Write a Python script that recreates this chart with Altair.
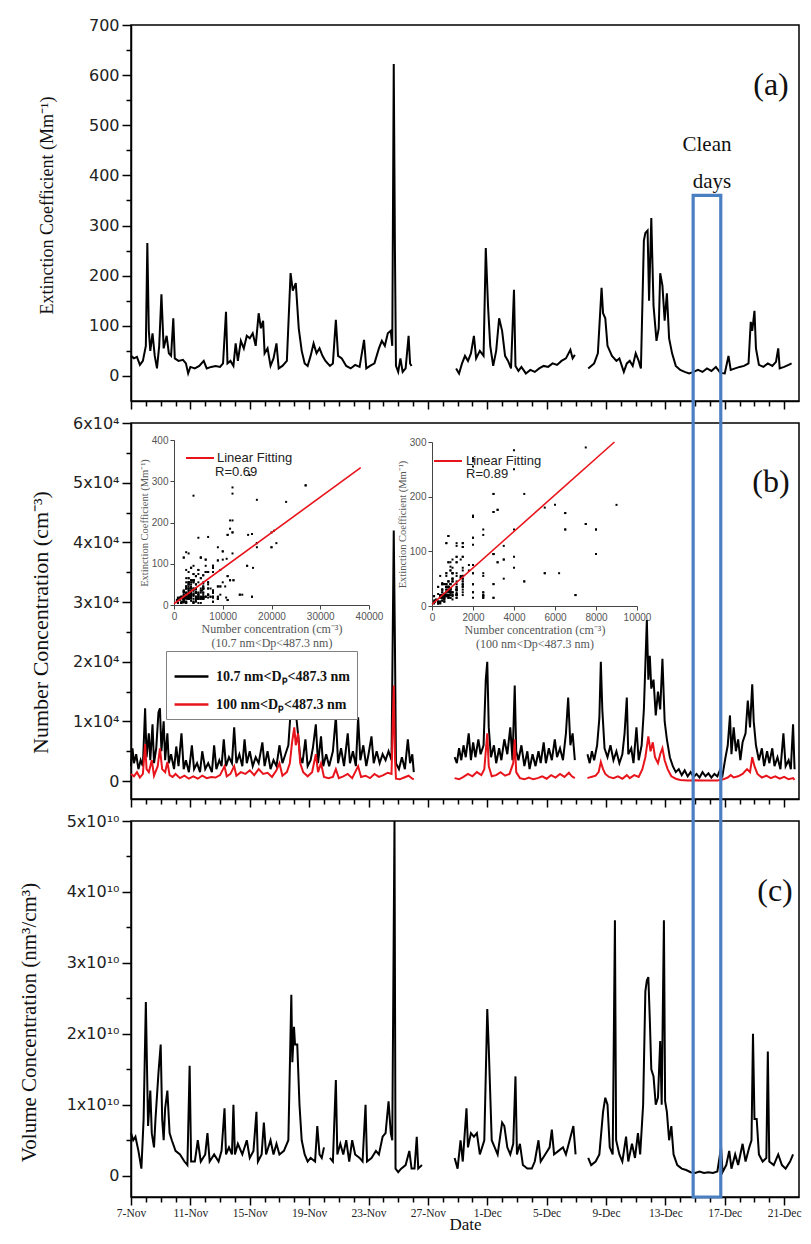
import altair as alt
import pandas as pd

START = pd.Timestamp("2013-11-07")
RED = "#e8141b"
BLUE = "#4a7fc1"
SERIF = "Liberation Serif"
SANS = "DejaVu Sans"
LBL1 = "10.7 nm<Dₚ<487.3 nm"
LBL2 = "100 nm<Dₚ<487.3 nm"

# ---------------- data (day offset from 7-Nov 00:00, value); None marks a gap ----------------
EXT = [
    (0.0, 40), (0.2, 35), (0.4, 38), (0.6, 22), (0.8, 30), (1.0, 60), (1.1, 265), (1.2, 90), (1.3, 50),
    (1.45, 85), (1.6, 40), (1.75, 15), (1.9, 60), (2.05, 163), (2.2, 55), (2.4, 80), (2.55, 45), (2.7, 40),
    (2.85, 115), (2.95, 35), (3.2, 30), (3.5, 32), (3.7, 25), (3.85, 5), (4.0, 18), (4.3, 15), (4.6, 20),
    (4.9, 30), (5.1, 15), (5.4, 18), (5.7, 20), (6.0, 18), (6.2, 25), (6.4, 128), (6.5, 25), (6.7, 30),
    (6.9, 20), (7.05, 65), (7.2, 30), (7.4, 70), (7.6, 55), (7.8, 80), (8.0, 75), (8.2, 85), (8.4, 60),
    (8.6, 125), (8.75, 95), (8.9, 110), (9.0, 45), (9.2, 55), (9.4, 20), (9.6, 35), (9.8, 65), (9.95, 15),
    (10.2, 20), (10.5, 30), (10.75, 205), (10.9, 170), (11.1, 185), (11.3, 95), (11.5, 50), (11.7, 25),
    (11.9, 20), (12.1, 40), (12.3, 65), (12.5, 45), (12.7, 55), (12.9, 40), (13.1, 30), (13.4, 20),
    (13.6, 25), (13.8, 112), (13.95, 40), (14.2, 35), (14.5, 20), (14.8, 15), (15.1, 22), (15.4, 18),
    (15.7, 72), (15.85, 15), (16.1, 20), (16.4, 25), (16.7, 55), (16.9, 70), (17.1, 60), (17.3, 85),
    (17.5, 90), (17.6, 60), (17.7, 622), (17.78, 250), (17.85, 20), (18.0, 8), (18.15, 35), (18.3, 8),
    (18.5, 15), (18.7, 80), (18.8, 25), (18.9, 20),
    (20.0, None),
    (21.9, 15), (22.1, 5), (22.3, 25), (22.5, 40), (22.7, 30), (22.9, 45), (23.1, 80), (23.25, 35),
    (23.5, 50), (23.75, 40), (23.9, 255), (24.05, 140), (24.2, 60), (24.4, 20), (24.6, 50), (24.8, 115),
    (25.0, 90), (25.2, 40), (25.4, 30), (25.6, 15), (25.8, 172), (25.9, 20), (26.1, 10), (26.3, 18),
    (26.6, 5), (26.9, 12), (27.2, 8), (27.5, 15), (27.8, 20), (28.1, 18), (28.4, 25), (28.7, 22),
    (29.0, 30), (29.3, 35), (29.6, 52), (29.75, 35), (29.9, 42),
    (30.3, None),
    (30.8, 15), (31.0, 20), (31.2, 25), (31.45, 45), (31.7, 176), (31.8, 125), (31.95, 115), (32.1, 60),
    (32.4, 40), (32.7, 30), (32.9, 35), (33.2, 8), (33.4, 25), (33.6, 30), (33.8, 20), (34.0, 45),
    (34.2, 30), (34.35, 15), (34.55, 270), (34.65, 285), (34.8, 290), (34.9, 150), (35.05, 315),
    (35.2, 140), (35.4, 70), (35.55, 95), (35.65, 205), (35.8, 180), (35.95, 110), (36.1, 165),
    (36.25, 75), (36.45, 45), (36.7, 20), (37.0, 12), (37.3, 8), (37.6, 5), (37.9, 8), (38.2, 12),
    (38.5, 8), (38.8, 15), (39.1, 10), (39.4, 18), (39.7, 6), (40.0, 5), (40.25, 40), (40.4, 12),
    (40.7, 15), (41.0, 18), (41.3, 20), (41.6, 25), (41.75, 108), (41.85, 90), (42.0, 130), (42.1, 55),
    (42.3, 22), (42.6, 18), (42.9, 25), (43.2, 20), (43.45, 28), (43.6, 55), (43.7, 15), (44.0, 18),
    (44.3, 22), (44.5, 25),
]

NUM = [
    (0.0, 2500), (0.1, 5500), (0.2, 3000), (0.35, 4500), (0.5, 2000), (0.65, 3500), (0.8, 2500),
    (0.95, 12200), (1.05, 4000), (1.2, 8000), (1.3, 3500), (1.45, 9500), (1.55, 3000), (1.7, 5500),
    (1.85, 11500), (1.95, 12200), (2.05, 5000), (2.2, 10000), (2.3, 3500), (2.45, 8000), (2.55, 3000),
    (2.7, 4500), (2.9, 2000), (3.05, 5800), (3.2, 2500), (3.4, 8000), (3.55, 2000), (3.7, 3500),
    (3.9, 1500), (4.1, 6000), (4.25, 2000), (4.45, 3000), (4.65, 1500), (4.8, 5000), (5.0, 2000),
    (5.2, 3000), (5.45, 1500), (5.6, 6000), (5.75, 2000), (5.95, 3500), (6.1, 2500), (6.25, 7000),
    (6.4, 2500), (6.6, 4000), (6.8, 3000), (6.95, 9000), (7.1, 3000), (7.3, 4500), (7.5, 2500),
    (7.65, 7000), (7.8, 3000), (8.0, 5000), (8.2, 2500), (8.4, 4000), (8.6, 3000), (8.85, 6500),
    (9.0, 2500), (9.2, 5000), (9.4, 2000), (9.6, 3500), (9.8, 2500), (10.0, 6000), (10.2, 3000),
    (10.4, 4500), (10.6, 6000), (10.75, 11500), (10.85, 15200), (10.95, 11000), (11.1, 11500),
    (11.25, 8000), (11.4, 4000), (11.55, 3000), (11.75, 7000), (11.9, 2500), (12.1, 3500),
    (12.25, 5500), (12.45, 9500), (12.6, 3000), (12.8, 7500), (12.95, 2500), (13.15, 4500),
    (13.35, 2500), (13.6, 5000), (13.8, 10800), (13.95, 3000), (14.15, 5500), (14.35, 2500),
    (14.6, 8000), (14.75, 3000), (14.95, 5000), (15.15, 2500), (15.3, 10700), (15.45, 3500),
    (15.65, 6000), (15.85, 2500), (16.0, 4500), (16.2, 7500), (16.35, 3000), (16.55, 5000),
    (16.75, 3000), (16.95, 4500), (17.15, 3500), (17.35, 5000), (17.55, 3500), (17.7, 42000),
    (17.78, 23000), (17.85, 3000), (18.05, 2000), (18.25, 4000), (18.45, 2000), (18.65, 7000),
    (18.8, 3000), (18.95, 4500), (19.05, 1500),
    (20.0, None),
    (21.8, 4000), (21.95, 3000), (22.1, 5500), (22.25, 3500), (22.4, 6000), (22.55, 4000),
    (22.75, 8000), (22.9, 3500), (23.05, 6500), (23.2, 4000), (23.4, 7000), (23.55, 4500),
    (23.75, 6000), (23.9, 17000), (24.0, 20000), (24.1, 9000), (24.25, 4000), (24.45, 6000),
    (24.6, 3000), (24.8, 5500), (24.95, 3500), (25.15, 7000), (25.35, 4500), (25.55, 9000),
    (25.7, 3500), (25.85, 16000), (25.95, 5000), (26.1, 3500), (26.3, 6000), (26.5, 2500),
    (26.7, 5000), (26.85, 2000), (27.05, 4500), (27.25, 2500), (27.45, 5000), (27.6, 3000),
    (27.8, 6500), (27.95, 3000), (28.15, 5500), (28.35, 3500), (28.55, 7000), (28.7, 4000),
    (28.9, 5500), (29.1, 3500), (29.3, 8000), (29.45, 14000), (29.6, 6000), (29.75, 8000), (29.9, 3500),
    (30.3, None),
    (30.75, 4500), (30.9, 3000), (31.05, 5000), (31.2, 3500), (31.4, 6000), (31.55, 10500),
    (31.65, 20000), (31.75, 12000), (31.9, 5500), (32.1, 4000), (32.3, 6000), (32.5, 3500),
    (32.7, 5000), (32.9, 3000), (33.1, 4500), (33.25, 8000), (33.4, 14000), (33.5, 4500),
    (33.7, 5500), (33.85, 3000), (34.05, 9000), (34.2, 3500), (34.4, 6000), (34.55, 12000),
    (34.75, 27000), (34.85, 17000), (34.95, 21000), (35.05, 15500), (35.2, 17000), (35.35, 11000),
    (35.5, 15000), (35.65, 12000), (35.8, 20500), (35.95, 10000), (36.1, 7000), (36.3, 4000),
    (36.5, 2500), (36.7, 1500), (36.9, 2000), (37.1, 1000), (37.3, 1800), (37.5, 800), (37.7, 1500),
    (37.9, 700), (38.1, 1200), (38.3, 600), (38.5, 1500), (38.7, 800), (38.9, 1300), (39.1, 600),
    (39.3, 1200), (39.5, 800), (39.7, 2000), (39.85, 1000), (40.05, 4000), (40.2, 6000),
    (40.35, 11000), (40.45, 4500), (40.6, 9000), (40.75, 5000), (40.9, 7000), (41.05, 3500),
    (41.2, 6500), (41.4, 8000), (41.55, 13500), (41.7, 9000), (41.85, 16200), (41.95, 10000),
    (42.1, 6000), (42.3, 3500), (42.5, 5500), (42.65, 2500), (42.85, 5000), (43.0, 3000),
    (43.2, 5500), (43.35, 2500), (43.55, 4000), (43.75, 2000), (43.95, 8000), (44.1, 2500),
    (44.3, 3500), (44.45, 2000), (44.6, 9500), (44.7, 2000),
]

N100 = [
    (0.0, 1200), (0.2, 800), (0.4, 1500), (0.6, 600), (0.8, 1200), (0.95, 6200), (1.05, 2000),
    (1.2, 1500), (1.4, 3500), (1.55, 900), (1.8, 2500), (1.95, 5500), (2.1, 2000), (2.3, 1500),
    (2.45, 3200), (2.6, 1000), (2.8, 700), (3.0, 1200), (3.3, 500), (3.6, 900), (3.9, 400), (4.2, 800),
    (4.5, 400), (4.8, 900), (5.1, 500), (5.4, 700), (5.7, 600), (6.0, 1000), (6.3, 2500), (6.45, 800),
    (6.7, 1200), (6.95, 2500), (7.1, 900), (7.4, 1500), (7.7, 1200), (8.0, 1800), (8.3, 1000),
    (8.6, 2000), (8.9, 1200), (9.2, 1400), (9.5, 700), (9.8, 1800), (10.0, 3000), (10.2, 900),
    (10.5, 1500), (10.7, 3000), (10.85, 6500), (11.0, 9000), (11.1, 6000), (11.25, 8000), (11.4, 3000),
    (11.6, 1500), (11.9, 800), (12.2, 1500), (12.45, 4500), (12.6, 1500), (12.8, 3000), (13.0, 700),
    (13.3, 500), (13.6, 700), (13.8, 2000), (14.0, 500), (14.3, 800), (14.6, 1200), (14.9, 500),
    (15.3, 2500), (15.5, 700), (15.8, 900), (16.1, 500), (16.4, 1200), (16.7, 700), (17.0, 1000),
    (17.3, 1400), (17.55, 1200), (17.7, 16000), (17.78, 4000), (17.85, 400), (18.1, 300), (18.4, 600),
    (18.7, 900), (18.95, 400), (19.05, 300),
    (20.0, None),
    (21.8, 500), (22.1, 300), (22.4, 700), (22.7, 1200), (23.0, 800), (23.3, 1500), (23.6, 1000),
    (23.8, 2000), (24.0, 8000), (24.1, 2500), (24.3, 800), (24.6, 1000), (24.9, 1500), (25.2, 900),
    (25.5, 1200), (25.75, 3000), (25.85, 7000), (25.95, 1500), (26.2, 500), (26.5, 300), (26.8, 600),
    (27.1, 300), (27.4, 500), (27.7, 800), (28.0, 400), (28.3, 1000), (28.6, 600), (28.9, 1200),
    (29.2, 700), (29.5, 1400), (29.7, 800), (29.9, 500),
    (30.3, None),
    (30.75, 500), (31.0, 700), (31.3, 900), (31.5, 1500), (31.65, 3200), (31.8, 2000), (31.95, 1200),
    (32.2, 700), (32.5, 500), (32.8, 800), (33.1, 400), (33.4, 1000), (33.6, 500), (33.9, 1000),
    (34.2, 700), (34.45, 2000), (34.65, 4000), (34.85, 7500), (35.0, 5000), (35.15, 6500), (35.3, 4000),
    (35.5, 3000), (35.65, 4500), (35.8, 5500), (35.95, 3500), (36.15, 2000), (36.4, 800), (36.7, 400),
    (37.0, 200), (37.5, 100), (38.0, 150), (38.5, 100), (39.0, 120), (39.5, 100), (39.9, 300),
    (40.2, 600), (40.4, 1000), (40.6, 600), (40.9, 800), (41.2, 1200), (41.5, 2000), (41.7, 1500),
    (41.85, 4000), (42.0, 2500), (42.2, 1200), (42.5, 600), (42.8, 900), (43.1, 500), (43.4, 800),
    (43.7, 400), (44.0, 700), (44.3, 300), (44.6, 500), (44.7, 200),
]

# volume concentration in units of 1e10 nm3/cm3
VOL = [
    (0.0, 0.6), (0.15, 0.5), (0.3, 0.55), (0.5, 0.35), (0.7, 0.1), (0.85, 0.8), (1.0, 2.45), (1.08, 1.5),
    (1.15, 0.7), (1.3, 1.2), (1.4, 0.6), (1.55, 0.4), (1.65, 0.8), (1.85, 1.45), (2.0, 1.85), (2.1, 0.8),
    (2.2, 0.5), (2.3, 0.95), (2.45, 1.2), (2.6, 0.6), (2.75, 0.5), (3.0, 0.35), (3.3, 0.3), (3.6, 0.2),
    (3.8, 0.15), (3.95, 1.55), (4.05, 0.2), (4.3, 0.2), (4.5, 0.5), (4.7, 0.2), (5.0, 0.3), (5.15, 0.6),
    (5.3, 0.2), (5.6, 0.3), (5.9, 0.2), (6.1, 0.35), (6.3, 0.95), (6.4, 0.3), (6.6, 0.4), (6.8, 0.3),
    (6.9, 1.0), (7.0, 0.3), (7.2, 0.45), (7.5, 0.3), (7.8, 0.5), (8.0, 0.25), (8.25, 0.35), (8.45, 0.9),
    (8.55, 0.2), (8.8, 0.3), (8.95, 0.75), (9.1, 0.3), (9.4, 0.5), (9.6, 0.3), (9.8, 0.45), (10.0, 0.3),
    (10.3, 0.35), (10.6, 0.5), (10.8, 2.55), (10.87, 1.6), (10.98, 2.1), (11.05, 1.85), (11.2, 1.85),
    (11.35, 1.0), (11.5, 0.5), (11.7, 0.3), (11.9, 0.2), (12.1, 0.25), (12.4, 0.2), (12.55, 0.7),
    (12.7, 0.3), (12.85, 0.25), (13.0, 0.4),
    (13.2, None),
    (13.4, 0.25), (13.6, 0.2), (13.8, 1.35), (13.9, 0.3), (14.1, 0.45), (14.3, 0.3), (14.5, 0.5),
    (14.7, 0.2), (14.9, 0.5), (15.1, 0.3), (15.4, 0.25), (15.6, 0.2), (15.8, 1.0), (15.9, 0.2),
    (16.2, 0.25), (16.5, 0.35), (16.7, 0.3), (16.95, 0.55), (17.15, 0.6), (17.35, 1.05), (17.5, 0.6),
    (17.6, 0.5), (17.75, 5.0), (17.82, 0.1), (18.0, 0.05), (18.2, 0.1), (18.5, 0.15), (18.75, 0.35),
    (18.9, 0.1), (19.1, 0.1), (19.25, 0.55), (19.35, 0.1), (19.6, 0.15),
    (20.5, None),
    (21.8, 0.25), (22.0, 0.1), (22.2, 0.5), (22.35, 0.2), (22.6, 0.95), (22.7, 0.4), (22.9, 0.6),
    (23.1, 0.55), (23.3, 0.6), (23.5, 0.3), (23.8, 0.5), (24.0, 2.35), (24.1, 1.8), (24.3, 0.5),
    (24.5, 0.4), (24.7, 0.3), (24.9, 0.6), (25.0, 0.75), (25.15, 0.7), (25.35, 0.4), (25.55, 0.3),
    (25.75, 0.45), (25.9, 1.4), (26.0, 0.3), (26.2, 0.45), (26.4, 0.15), (26.7, 0.1), (27.0, 0.1),
    (27.2, 0.2), (27.45, 0.5), (27.6, 0.2), (27.9, 0.3), (28.2, 0.4), (28.35, 0.65), (28.5, 0.3),
    (28.8, 0.35), (29.1, 0.4), (29.3, 0.3), (29.55, 0.5), (29.8, 0.7), (29.95, 0.3),
    (30.3, None),
    (30.8, 0.25), (31.0, 0.15), (31.3, 0.2), (31.55, 0.3), (31.8, 0.9), (31.95, 1.1), (32.1, 1.0),
    (32.25, 0.4), (32.45, 0.3), (32.6, 3.6), (32.68, 0.5), (32.9, 0.3), (33.1, 0.2), (33.35, 0.55),
    (33.5, 0.2), (33.75, 0.45), (33.95, 0.25), (34.15, 0.6), (34.3, 0.3), (34.5, 1.0), (34.65, 2.6),
    (34.75, 2.75), (34.85, 2.8), (34.95, 2.2), (35.05, 1.5), (35.2, 1.4), (35.35, 1.0), (35.5, 1.1),
    (35.65, 1.9), (35.75, 1.0), (35.9, 3.6), (35.98, 1.05), (36.1, 0.9), (36.25, 0.5), (36.4, 0.7),
    (36.55, 0.3), (36.8, 0.15), (37.1, 0.1), (37.4, 0.08), (37.7, 0.05), (38.0, 0.04), (38.3, 0.06),
    (38.6, 0.04), (38.9, 0.05), (39.2, 0.04), (39.5, 0.06), (39.75, 0.4), (39.85, 0.05), (40.1, 0.15),
    (40.3, 0.35), (40.45, 0.1), (40.7, 0.3), (40.9, 0.15), (41.2, 0.45), (41.4, 0.2), (41.65, 0.4),
    (41.8, 0.5), (41.9, 2.0), (42.0, 0.8), (42.15, 0.8), (42.3, 0.3), (42.55, 0.2), (42.8, 0.25),
    (42.9, 1.75), (43.0, 0.2), (43.3, 0.15), (43.6, 0.3), (43.85, 0.15), (44.1, 0.1), (44.4, 0.2),
    (44.6, 0.3),
]

# linear fits shown in the insets (end points)
FIT1_N = [0, 38300]
FIT1_E = [3, 333]
FIT2_N = [0, 8900]
FIT2_E = [3, 300]

CLEAN_DAYS = [37.87, 39.73]   # clean-days window (day offsets)
CLEAN_TOP_EXT = 360           # top of the window, in panel (a) units

# ---------------- layout ----------------
W, H, GAP = 668, 376, 22
A_DOM = [-50, 700]
B_DOM = [-3000, 60000]
C_DOM = [-0.3, 5.0]


def series_df(pairs, name=""):
    rows, seg = [], 0
    for d, v in pairs:
        if v is None:
            seg += 1
            continue
        rows.append({"time": START + pd.Timedelta(days=d), "value": v, "seg": seg, "series": name})
    return pd.DataFrame(rows)


ext_df = series_df(EXT)
num_df = series_df(NUM, LBL1)
n100_df = series_df(N100, LBL2)
vol_df = series_df(VOL)


def pair(a_df, b_df, na, nb):
    a = a_df[["time", "value"]].sort_values("time").rename(columns={"value": na})
    b = b_df[["time", "value"]].sort_values("time").rename(columns={"value": nb})
    tol = pd.Timedelta(hours=3)
    p1 = pd.merge_asof(a, b, on="time", direction="nearest", tolerance=tol)
    p2 = pd.merge_asof(b, a, on="time", direction="nearest", tolerance=tol)
    return pd.concat([p1, p2]).dropna().drop_duplicates()[[na, nb]]


sc1_df = pair(num_df, ext_df, "n", "e")
sc1_df = sc1_df[(sc1_df.n <= 40000) & (sc1_df.e <= 400)]
sc2_df = pair(n100_df, ext_df, "n", "e")
sc2_df = sc2_df[(sc2_df.n <= 10000) & (sc2_df.e <= 300)]
fit1_df = pd.DataFrame({"n": FIT1_N, "e": FIT1_E})
fit2_df = pd.DataFrame({"n": FIT2_N, "e": FIT2_E})

ONE = pd.DataFrame({"k": [0]})

X_DOMAIN = [alt.DateTime(year=2013, month=11, date=7), alt.DateTime(year=2013, month=12, date=22)]
X_TICKS = [alt.DateTime(year=t.year, month=t.month, date=t.day)
           for t in pd.date_range("2013-11-07", "2013-12-21", freq="D")]
MAJOR_X = "round((datum.value - datetime(2013, 10, 7)) / 864e5) % 4 == 0"


def x_enc(show, field="time"):
    axis = alt.Axis(
        values=X_TICKS, labels=show, orient="bottom",
        labelExpr=f"({MAJOR_X}) ? timeFormat(datum.value, '%-d-%b') : ''",
        labelFont=SERIF, labelFontSize=11.5, labelColor="#222", labelPadding=2,
        tickSize={"condition": {"test": f"!({MAJOR_X})", "value": 5}, "value": 8},
        titleFont=SERIF, titleFontSize=17, titlePadding=-2, titleColor="#111",
        titleFontWeight="normal",
    )
    if show:
        return alt.X(f"{field}:T", scale=alt.Scale(domain=X_DOMAIN, nice=False), axis=axis, title="Date")
    return alt.X(f"{field}:T", scale=alt.Scale(domain=X_DOMAIN, nice=False), axis=axis, title=None)


def y_axis(values, major, label_expr, title, tx, ty, tsize):
    return alt.Axis(
        values=values, labelExpr=label_expr, orient="left",
        tickSize={"condition": {"test": f"!({major})", "value": 5}, "value": 9},
        labelFont=SANS, labelFontSize=16, labelColor="#222", labelPadding=3,
        title=title, titleFont=SERIF, titleFontSize=tsize, titleColor="#111",
        titleFontWeight="normal",
        titleX=tx, titleY=ty, titleBaseline="middle", titleAlign="center",
    )


def label(text, x, y, size, font=SERIF, color="#111", weight="normal"):
    return alt.Chart(ONE).mark_text(
        text=text, font=font, fontSize=size, color=color, fontWeight=weight,
        align="center", baseline="middle",
    ).encode(x=alt.value(x), y=alt.value(y))


def ltext(text, x, y, size, font="Liberation Sans", color="#222"):
    return alt.Chart(ONE).mark_text(
        text=text, font=font, fontSize=size, color=color, align="left", baseline="middle",
    ).encode(x=alt.value(x), y=alt.value(y))


# ---------------- panel (a) ----------------
ya = alt.Y("value:Q", scale=alt.Scale(domain=A_DOM, nice=False, zero=False),
           axis=y_axis(list(range(0, 701, 50)), "datum.value % 100 == 0",
                       "datum.value % 100 == 0 ? datum.label : ''",
                       "Extinction Coefficient (Mm⁻¹)", -84, 180, 18))
line_a = alt.Chart(ext_df).mark_line(color="black", strokeWidth=2).encode(
    x=x_enc(False), y=ya, detail="seg:N")
pa = alt.layer(
    line_a,
    label("(a)", 640, 60, 32),
    label("Clean", 576, 120, 21),
    label("days", 581, 157, 21),
).properties(width=W, height=H)

# ---------------- panel (b) ----------------
yb = alt.Y("value:Q", scale=alt.Scale(domain=B_DOM, nice=False, zero=False),
           axis=y_axis(list(range(0, 60001, 5000)), "datum.value % 10000 == 0",
                       "datum.value == 0 ? '0' : (datum.value % 10000 == 0 ? (datum.value / 10000) + 'x10⁴' : '')",
                       "Number Concentration (cm⁻³)", -91, 199, 22))
color = alt.Color(
    "series:N", title=None,
    scale=alt.Scale(domain=[LBL1, LBL2], range=["black", RED]),
    legend=alt.Legend(orient="none", legendX=35, legendY=228, strokeColor="#808080",
                      fillColor="white", padding=7, symbolType="stroke", symbolSize=1150,
                      symbolStrokeWidth=2.5, labelFont=SERIF, labelFontSize=14,
                      labelFontWeight="bold", labelColor="#111", rowPadding=2, labelOffset=6),
)
black_line = alt.Chart(num_df).mark_line(strokeWidth=2).encode(
    x=x_enc(False), y=yb, color=color, detail="seg:N")
red_line = alt.Chart(n100_df).mark_line(strokeWidth=2).encode(
    x=x_enc(False), y=yb, color=color, detail="seg:N")
main_b = alt.layer(black_line, red_line)

INSET_AX = dict(labelFont="Liberation Sans", labelFontSize=10, labelColor="#555",
                domainColor="#444", domainWidth=1, tickColor="#444", tickWidth=1, tickSize=4,
                labelPadding=2, titleFont=SERIF, titleColor="#555", titleFontWeight="normal",
                labelOverlap=False, labelFlush=False, grid=False)


def inset(sc_df, fit_df, xr, yr, xmax, xticks, ymax, yticks, xtitle):
    xi = alt.X("n:Q", scale=alt.Scale(domain=[0, xmax], range=xr, nice=False, zero=False),
               axis=alt.Axis(orient="bottom", offset=-(H - yr[0]), values=xticks, format="d",
                             title=xtitle, titleFontSize=12, titlePadding=2, **INSET_AX))
    yi = alt.Y("e:Q", scale=alt.Scale(domain=[0, ymax], range=yr, nice=False, zero=False),
               axis=alt.Axis(orient="left", offset=-xr[0], values=yticks, format="d",
                             title="Extinction Coefficient (Mm⁻¹)", titleFontSize=10.5,
                             titlePadding=2, **INSET_AX))
    pts = alt.Chart(sc_df).mark_square(size=4, color="black", opacity=1).encode(x=xi, y=yi)
    fit = alt.Chart(fit_df).mark_line(color=RED, strokeWidth=1.6).encode(x=xi, y=yi)
    return alt.layer(pts, fit)


inset1 = inset(sc1_df, fit1_df, [43, 238], [182, 17], 40000, [0, 10000, 20000, 30000, 40000],
               400, [0, 100, 200, 300, 400],
               ["Number concentration (cm⁻³)", "(10.7 nm<Dp<487.3 nm)"])
inset2 = inset(sc2_df, fit2_df, [301, 506], [183, 19], 10000, [0, 2000, 4000, 6000, 8000, 10000],
               300, [0, 100, 200, 300],
               ["Number concentration (cm⁻³)", "(100 nm<Dp<487.3 nm)"])

ann_b = [
    alt.Chart(ONE).mark_rule(color=RED, strokeWidth=2).encode(x=alt.value(55), x2=alt.value(83), y=alt.value(35)),
    ltext("Linear Fitting", 86, 35, 13),
    ltext("R=0.69", 84, 49, 13),
    alt.Chart(ONE).mark_rule(color=RED, strokeWidth=2).encode(x=alt.value(303), x2=alt.value(331), y=alt.value(38)),
    ltext("Linear Fitting", 335, 38, 13),
    ltext("R=0.89", 335, 51, 13),
    label("(b)", 640, 59, 32),
]

pb = alt.layer(main_b, inset1, inset2, *ann_b).resolve_scale(
    x="independent", y="independent").properties(width=W, height=H)

# ---------------- panel (c) ----------------
c_scale = alt.Scale(domain=C_DOM, nice=False, zero=False)
c_axis = y_axis([i * 0.5 for i in range(11)], "datum.value % 1 == 0",
                "datum.value == 0 ? '0' : (datum.value % 1 == 0 ? datum.value + 'x10¹⁰' : '')",
                "Volume Concentration (nm³/cm³)", -102, 201, 21)
line_c = alt.Chart(vol_df).mark_line(color="black", strokeWidth=2).encode(
    x=x_enc(True), y=alt.Y("value:Q", scale=c_scale, axis=c_axis), detail="seg:N")

# clean-days window: top given in panel (a) units, carried to panel (c) units through the layout
top_px_in_a = (A_DOM[1] - CLEAN_TOP_EXT) / (A_DOM[1] - A_DOM[0]) * H
px_above_c = 2 * (H + GAP) - top_px_in_a
c_per_px = (C_DOM[1] - C_DOM[0]) / H
clean_df = pd.DataFrame({
    "time": [START + pd.Timedelta(days=CLEAN_DAYS[0])],
    "time_end": [START + pd.Timedelta(days=CLEAN_DAYS[1])],
    "value": [C_DOM[1] + px_above_c * c_per_px],
    "value_end": [C_DOM[0]],
})
rect_c = alt.Chart(clean_df).mark_rect(fillOpacity=0, stroke=BLUE, strokeWidth=3.2, clip=False).encode(
    x=x_enc(True), x2=alt.X2("time_end"),
    y=alt.Y("value:Q", scale=c_scale, axis=c_axis), y2=alt.Y2("value_end"))

pc = alt.layer(line_c, rect_c, label("(c)", 644, 70, 32)).properties(width=W, height=H)

chart = alt.vconcat(pa, pb, pc, spacing=GAP, bounds="flush").resolve_scale(
    x="independent", y="independent", color="independent"
).configure_view(
    stroke="black", strokeWidth=1.5
).configure_axis(
    domainColor="black", domainWidth=1.5, tickColor="black", tickWidth=1.5,
    grid=False, labelOverlap=False, labelFlush=False, titleFontWeight="normal",
).properties(
    padding={"left": 9, "top": 8, "right": 0, "bottom": 0}, background="white"
)

chart.save("out.html", embed_options={"renderer": "svg", "actions": False})
